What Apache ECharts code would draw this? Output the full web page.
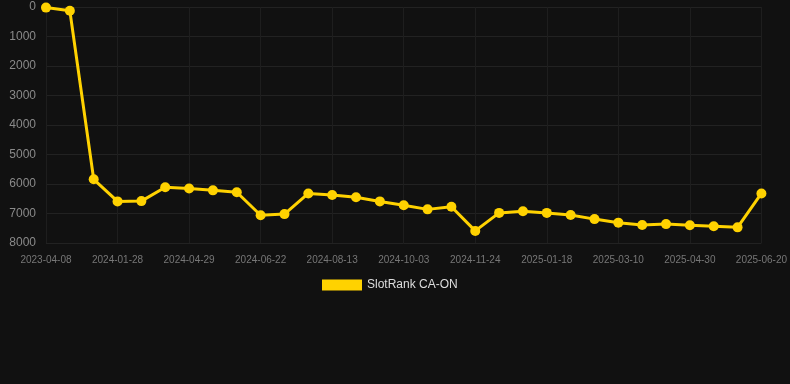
<!DOCTYPE html>
<html>
<head>
<meta charset="utf-8">
<script src="https://cdn.jsdelivr.net/npm/echarts@6/dist/echarts.min.js"></script>
<style>
html,body{margin:0;padding:0;background:#111111;}
#chart{width:790px;height:384px;}
</style>
</head>
<body>
<div id="chart"></div>
<script>
const categories = [
  '2023-04-08','2023-12-18','2024-01-08','2024-01-28','2024-02-28','2024-03-30',
  '2024-04-29','2024-05-17','2024-06-04','2024-06-22','2024-07-10','2024-07-27',
  '2024-08-13','2024-08-30','2024-09-16','2024-10-03','2024-10-20','2024-11-07',
  '2024-11-24','2024-12-12','2024-12-31','2025-01-18','2025-02-04','2025-02-21',
  '2025-03-10','2025-03-27','2025-04-13','2025-04-30','2025-05-17','2025-06-03',
  '2025-06-20'
];
const seriesName = 'SlotRank CA-ON';
const rankValues = [
  20, 130, 5840, 6590, 6580, 6110,
  6150, 6215, 6280, 7060, 7020, 6320,
  6370, 6450, 6590, 6720, 6860, 6770,
  7590, 6980, 6925, 6980, 7050, 7190,
  7310, 7390, 7360, 7400, 7435, 7470,
  6320
];
const yMin = 0, yMax = 8000, yInterval = 1000;

const chart = echarts.init(document.getElementById('chart'));
chart.setOption({
  backgroundColor: '#111111',
  animation: false,
  grid: { left: 46, right: 28, top: 7, bottom: 141, containLabel: false },
  legend: {
    data: [seriesName],
    left: 317,
    top: 274,
    icon: 'rect',
    itemWidth: 40,
    itemHeight: 11,
    itemGap: 10,
    textStyle: { color: '#dddddd', fontSize: 12, fontFamily: 'Liberation Sans, Arial, sans-serif' }
  },
  xAxis: {
    type: 'category',
    data: categories,
    boundaryGap: false,
    axisLine: { show: false },
    axisTick: { show: false, interval: 2 },
    axisLabel: { interval: 2, color: '#777777', fontSize: 10, margin: 12, fontFamily: 'Liberation Sans, Arial, sans-serif' },
    splitLine: { show: true, interval: 2, lineStyle: { color: '#1e1e1e', width: 1 } }
  },
  yAxis: {
    type: 'value',
    inverse: true,
    min: yMin, max: yMax, interval: yInterval,
    axisLine: { show: false },
    axisTick: { show: false },
    axisLabel: {
      color: '#8a8a8a', fontSize: 12, margin: 10,
      fontFamily: 'Liberation Sans, Arial, sans-serif',
      formatter: function (v) { return String(v); }
    },
    splitLine: { show: true, lineStyle: { color: '#222222', width: 1 } }
  },
  series: [{
    name: seriesName,
    type: 'line',
    data: rankValues,
    symbol: 'circle',
    symbolSize: 10,
    showSymbol: true,
    lineStyle: { color: '#ffd200', width: 3 },
    itemStyle: { color: '#ffd200' }
  }]
});
</script>
</body>
</html>
